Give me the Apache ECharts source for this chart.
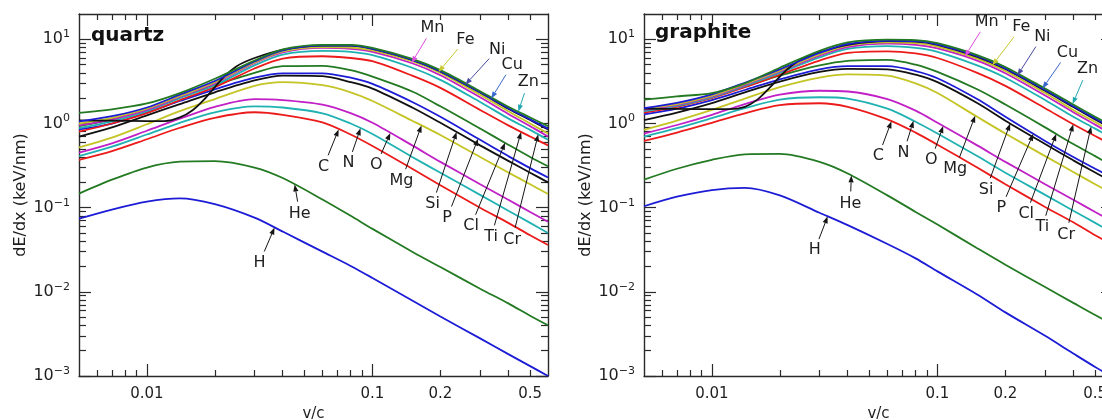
<!DOCTYPE html>
<html>
<head>
<meta charset="utf-8">
<script src="https://cdn.jsdelivr.net/npm/echarts@6/dist/echarts.min.js"></script>
<style>
  html, body { margin: 0; padding: 0; background: #ffffff; }
  #chart { width: 1102px; height: 420px; }
</style>
</head>
<body>
<div id="chart"></div>
<script>
// Electronic stopping power dE/dx (keV/nm) of ions in quartz and graphite vs. v/c

// v/c sample points shared by the curves
const vc = [0.005, 0.007, 0.01, 0.014, 0.02, 0.03, 0.04, 0.06, 0.08, 0.1, 0.15, 0.2, 0.3, 0.4, 0.5, 0.6];
// finer sampling for nickel, which climbs steeply around v/c = 0.02
const vcNi = [0.005, 0.007, 0.01, 0.012, 0.014, 0.016, 0.018, 0.02, 0.022, 0.025, 0.03, 0.04, 0.06, 0.08, 0.1, 0.15, 0.2, 0.3, 0.4, 0.5, 0.6];

// quartz
const quartzH  = [0.074, 0.095, 0.118, 0.129, 0.110, 0.076, 0.052, 0.030, 0.0203, 0.0146, 0.0079, 0.0051, 0.0028, 0.00182, 0.00131, 0.00100];
const quartzHe = [0.147, 0.215, 0.30, 0.352, 0.358, 0.30, 0.225, 0.125, 0.080, 0.056, 0.030, 0.0197, 0.0109, 0.0073, 0.0052, 0.0040];
const quartzC  = [0.37, 0.47, 0.65, 0.89, 1.17, 1.36, 1.27, 1.03, 0.74, 0.54, 0.29, 0.185, 0.100, 0.066, 0.047, 0.036];
const quartzN  = [0.41, 0.53, 0.74, 1.02, 1.36, 1.60, 1.55, 1.32, 1.00, 0.75, 0.40, 0.26, 0.142, 0.092, 0.066, 0.050];
const quartzO  = [0.45, 0.58, 0.82, 1.14, 1.58, 1.95, 1.90, 1.68, 1.33, 1.02, 0.55, 0.35, 0.19, 0.124, 0.089, 0.068];
const quartzMg = [0.52, 0.68, 0.98, 1.40, 1.95, 2.80, 3.10, 2.85, 2.35, 1.85, 1.08, 0.73, 0.40, 0.262, 0.19, 0.145];
const quartzSi = [0.70, 0.90, 1.25, 1.70, 2.35, 3.25, 3.70, 3.65, 3.10, 2.60, 1.55, 1.02, 0.55, 0.36, 0.26, 0.20];
const quartzP  = [0.85, 1.00, 1.35, 1.85, 2.55, 3.50, 3.95, 3.95, 3.50, 2.95, 1.80, 1.20, 0.64, 0.41, 0.295, 0.228];
const quartzCl = [0.93, 1.12, 1.50, 2.05, 2.85, 4.00, 4.80, 4.85, 4.30, 3.60, 2.40, 1.60, 0.87, 0.56, 0.40, 0.31];
const quartzTi = [0.80, 1.00, 1.33, 1.90, 2.70, 4.50, 5.90, 6.30, 6.00, 5.50, 3.70, 2.65, 1.45, 0.95, 0.70, 0.55];
const quartzCr = [0.88, 1.06, 1.40, 2.00, 2.85, 4.90, 6.60, 7.30, 7.10, 6.50, 4.60, 3.30, 1.80, 1.15, 0.84, 0.64];
const quartzMn = [0.95, 1.12, 1.45, 2.08, 3.00, 5.20, 7.00, 7.90, 7.70, 7.10, 5.20, 3.75, 2.05, 1.30, 0.93, 0.70];
const quartzFe = [1.00, 1.17, 1.50, 2.12, 3.10, 5.30, 7.20, 8.10, 8.00, 7.40, 5.50, 4.00, 2.20, 1.40, 1.00, 0.76];
const quartzNi = [1.09, 1.08, 1.07, 1.07, 1.18, 1.45, 1.95, 2.70, 3.60, 4.80, 6.00, 7.50, 8.40, 8.40, 7.70, 5.70, 4.15, 2.33, 1.50, 1.10, 0.85];
const quartzCu = [1.06, 1.22, 1.55, 2.20, 3.20, 5.45, 7.40, 8.40, 8.40, 7.70, 5.70, 4.15, 2.35, 1.52, 1.12, 0.87];
const quartzZn = [1.34, 1.47, 1.73, 2.30, 3.40, 5.60, 7.60, 8.60, 8.60, 7.90, 5.85, 4.30, 2.42, 1.58, 1.18, 0.93];

// graphite
const graphiteH  = [0.104, 0.135, 0.162, 0.172, 0.140, 0.087, 0.062, 0.037, 0.025, 0.0175, 0.0093, 0.0057, 0.0030, 0.00185, 0.00128, 0.00097];
const graphiteHe = [0.215, 0.29, 0.37, 0.43, 0.435, 0.35, 0.255, 0.14, 0.089, 0.063, 0.033, 0.021, 0.0114, 0.0074, 0.0053, 0.0041];
const graphiteC  = [0.62, 0.78, 1.02, 1.32, 1.65, 1.74, 1.58, 1.12, 0.78, 0.56, 0.30, 0.19, 0.102, 0.067, 0.047, 0.036];
const graphiteN  = [0.70, 0.88, 1.16, 1.52, 1.92, 2.05, 1.98, 1.50, 1.05, 0.76, 0.41, 0.26, 0.142, 0.092, 0.066, 0.050];
const graphiteO  = [0.76, 0.96, 1.27, 1.70, 2.20, 2.45, 2.40, 1.95, 1.42, 1.02, 0.55, 0.35, 0.19, 0.124, 0.089, 0.068];
const graphiteMg = [0.84, 1.08, 1.45, 1.98, 2.70, 3.50, 3.83, 3.70, 3.00, 2.30, 1.20, 0.76, 0.41, 0.265, 0.19, 0.145];
const graphiteSi = [1.10, 1.35, 1.75, 2.35, 3.15, 4.10, 4.45, 4.40, 3.80, 3.10, 1.75, 1.08, 0.57, 0.365, 0.262, 0.20];
const graphiteP  = [1.28, 1.50, 1.90, 2.50, 3.35, 4.40, 4.80, 4.80, 4.20, 3.45, 1.95, 1.20, 0.62, 0.40, 0.29, 0.225];
const graphiteCl = [1.42, 1.68, 2.10, 2.75, 3.70, 4.90, 5.55, 5.70, 5.00, 4.10, 2.55, 1.68, 0.90, 0.57, 0.41, 0.31];
const graphiteTi = [1.35, 1.58, 2.00, 2.70, 3.80, 5.60, 6.90, 7.20, 6.80, 6.00, 4.00, 2.80, 1.52, 0.98, 0.71, 0.55];
const graphiteCr = [1.40, 1.62, 2.05, 2.80, 4.00, 6.10, 7.70, 8.30, 7.90, 7.10, 4.90, 3.50, 1.90, 1.20, 0.87, 0.66];
const graphiteMn = [1.45, 1.66, 2.10, 2.88, 4.15, 6.40, 8.10, 8.90, 8.60, 7.80, 5.60, 3.95, 2.15, 1.36, 0.97, 0.73];
const graphiteFe = [1.50, 1.70, 2.15, 2.95, 4.25, 6.60, 8.40, 9.20, 9.00, 8.20, 5.90, 4.20, 2.30, 1.45, 1.04, 0.79];
const graphiteNi = [1.50, 1.49, 1.48, 1.48, 1.58, 1.95, 2.65, 3.60, 4.60, 5.80, 7.00, 8.60, 9.50, 9.40, 8.60, 6.20, 4.45, 2.45, 1.57, 1.12, 0.86];
const graphiteCu = [1.52, 1.76, 2.22, 3.05, 4.40, 6.90, 8.80, 9.60, 9.50, 8.70, 6.30, 4.50, 2.50, 1.60, 1.15, 0.88];
const graphiteZn = [1.92, 2.10, 2.30, 3.00, 4.60, 7.30, 9.20, 9.90, 9.80, 9.00, 6.50, 4.70, 2.60, 1.68, 1.20, 0.92];

// axis ticks and labels
const xMajorTicks = [0.01, 0.1];
const xMinorTicks = [0.006, 0.007, 0.008, 0.009, 0.02, 0.03, 0.04, 0.05, 0.06, 0.07, 0.08, 0.09, 0.2, 0.3, 0.4, 0.5];
const xTickLabels = [0.01, 0.1, 0.2, 0.5];
const yMajorTicks = [1e-3, 1e-2, 1e-1, 1, 10];
const yMinorTicks = [
  0.002, 0.003, 0.004, 0.005, 0.006, 0.007, 0.008, 0.009,
  0.02, 0.03, 0.04, 0.05, 0.06, 0.07, 0.08, 0.09,
  0.2, 0.3, 0.4, 0.5, 0.6, 0.7, 0.8, 0.9,
  2, 3, 4, 5, 6, 7, 8, 9
];

const ions = ['H', 'He', 'C', 'N', 'O', 'Mg', 'Si', 'P', 'Cl', 'Ti', 'Cr', 'Mn', 'Fe', 'Ni', 'Cu', 'Zn'];

const quartzCurves = {
  H: quartzH, He: quartzHe, C: quartzC, N: quartzN, O: quartzO, Mg: quartzMg, Si: quartzSi, P: quartzP,
  Cl: quartzCl, Ti: quartzTi, Cr: quartzCr, Mn: quartzMn, Fe: quartzFe, Ni: quartzNi, Cu: quartzCu, Zn: quartzZn
};
const graphiteCurves = {
  H: graphiteH, He: graphiteHe, C: graphiteC, N: graphiteN, O: graphiteO, Mg: graphiteMg, Si: graphiteSi, P: graphiteP,
  Cl: graphiteCl, Ti: graphiteTi, Cr: graphiteCr, Mn: graphiteMn, Fe: graphiteFe, Ni: graphiteNi, Cu: graphiteCu, Zn: graphiteZn
};

// line colours cycle blue, green, red, cyan, magenta, yellow, black
const BLUE = '#1c1cd6', GREEN = '#237a23', RED = '#ec1b1b', CYAN = '#20b2b2',
      MAGENTA = '#c020c6', YELLOW = '#c4c424', BLACK = '#111111';
const ionColors = {
  H: BLUE, He: GREEN, C: RED, N: CYAN, O: MAGENTA, Mg: YELLOW, Si: BLACK,
  P: BLUE, Cl: GREEN, Ti: RED, Cr: CYAN, Mn: MAGENTA, Fe: YELLOW, Ni: BLACK, Cu: BLUE, Zn: GREEN
};
const arrowColors = { Mn: '#e04ce0', Fe: '#c8c830', Ni: '#4a4aa6', Cu: '#3868cc', Zn: '#22a8b0' };

// labels: [ion, v/c of the arrow tip, text offset x, text offset y] (offsets in px from the tip)
const quartzNotes = [
  ['H', 0.0368, -15, 35], ['He', 0.0452, 5, 29], ['C', 0.0708, -15, 37], ['N', 0.0885, -12, 35],
  ['O', 0.120, -14, 32], ['Mg', 0.165, -20, 55], ['Si', 0.236, -24, 72], ['P', 0.294, -31, 79],
  ['Cl', 0.387, -34, 83], ['Ti', 0.456, -30, 105], ['Cr', 0.543, -26, 105],
  ['Mn', 0.149, 21, -35], ['Fe', 0.196, 27, -32], ['Ni', 0.258, 32, -35], ['Cu', 0.336, 21, -34], ['Zn', 0.443, 10, -30]
];
const graphiteNotes = [
  ['H', 0.0326, -13, 34], ['He', 0.0415, -1, 28], ['C', 0.0625, -13, 35], ['N', 0.0783, -10, 32],
  ['O', 0.106, -12, 34], ['Mg', 0.147, -20, 53], ['Si', 0.21, -24, 66], ['P', 0.266, -32, 74],
  ['Cl', 0.336, -30, 80], ['Ti', 0.40, -31, 103], ['Cr', 0.48, -25, 108],
  ['Mn', 0.132, 22, -35], ['Fe', 0.175, 29, -38], ['Ni', 0.226, 25, -39], ['Cu', 0.292, 25, -36], ['Zn', 0.397, 15, -35]
];

const L = Math.log10;
const X_MIN = L(0.005), X_MAX = L(0.6), Y_MIN = -3, Y_MAX = L(20);
const FONT = '"DejaVu Sans", sans-serif';
const AXIS_COLOR = '#2a2a2a';
const TEXT_COLOR = '#1e1e1e';

function xsFor(ion) { return ion === 'Ni' ? vcNi : vc; }

// log-log position on a curve, used to anchor a label arrow on that curve
function logValueAt(curves, ion, v) {
  const xs = xsFor(ion), ys = curves[ion], lv = L(v);
  for (let i = 0; i < xs.length - 1; i++) {
    const a = L(xs[i]), b = L(xs[i + 1]);
    if (lv >= a && lv <= b) {
      const t = (lv - a) / (b - a);
      return L(ys[i]) * (1 - t) + L(ys[i + 1]) * t;
    }
  }
  return L(ys[ys.length - 1]);
}

function vcLabel(v) { return String(parseFloat(Math.pow(10, v).toPrecision(2))); }
function powLabel(v) {
  const e = Math.round(v);
  return '{b|10}{s|' + (e < 0 ? '\u2212' + (-e) : String(e)) + '}';
}

function tickStyle() { return { color: AXIS_COLOR, width: 1.2 }; }

function xAxesFor(gi) {
  const base = {
    type: 'value', gridIndex: gi, min: X_MIN, max: X_MAX,
    splitLine: { show: false },
    axisLine: { show: true, onZero: false, lineStyle: { color: AXIS_COLOR, width: 1.4 } }
  };
  return [
    Object.assign({}, base, {
      position: 'bottom',
      axisTick: { show: true, inside: true, length: 12, customValues: xMajorTicks.map(L), lineStyle: tickStyle() },
      axisLabel: { show: true, customValues: xTickLabels.map(L), formatter: vcLabel, margin: 11,
                   fontSize: 15, fontFamily: FONT, color: TEXT_COLOR },
      name: 'v/c', nameLocation: 'middle', nameGap: 30,
      nameTextStyle: { fontSize: 15, fontFamily: FONT, color: TEXT_COLOR }
    }),
    Object.assign({}, base, {
      position: 'bottom', axisLine: { show: false, onZero: false },
      axisTick: { show: true, inside: true, length: 6, customValues: xMinorTicks.map(L), lineStyle: tickStyle() },
      axisLabel: { show: false }
    }),
    Object.assign({}, base, {
      position: 'top',
      axisTick: { show: true, inside: true, length: 12, customValues: xMajorTicks.map(L), lineStyle: tickStyle() },
      axisLabel: { show: false }
    }),
    Object.assign({}, base, {
      position: 'top', axisLine: { show: false, onZero: false },
      axisTick: { show: true, inside: true, length: 6, customValues: xMinorTicks.map(L), lineStyle: tickStyle() },
      axisLabel: { show: false }
    })
  ];
}

function yAxesFor(gi) {
  const base = {
    type: 'value', gridIndex: gi, min: Y_MIN, max: Y_MAX,
    splitLine: { show: false },
    axisLine: { show: true, onZero: false, lineStyle: { color: AXIS_COLOR, width: 1.4 } }
  };
  return [
    Object.assign({}, base, {
      position: 'left',
      axisTick: { show: true, inside: true, length: 12, customValues: yMajorTicks.map(L), lineStyle: tickStyle() },
      axisLabel: {
        show: true, customValues: yMajorTicks.map(L), formatter: powLabel, margin: 9,
        rich: {
          b: { fontSize: 16, fontFamily: FONT, color: TEXT_COLOR },
          s: { fontSize: 11, fontFamily: FONT, color: TEXT_COLOR, padding: [0, 0, 10, 0] }
        }
      },
      name: 'dE/dx (keV/nm)', nameLocation: 'middle', nameGap: 50, nameRotate: 90,
      nameTextStyle: { fontSize: 16, fontFamily: FONT, color: TEXT_COLOR }
    }),
    Object.assign({}, base, {
      position: 'left', axisLine: { show: false, onZero: false },
      axisTick: { show: true, inside: true, length: 7, customValues: yMinorTicks.map(L), lineStyle: tickStyle() },
      axisLabel: { show: false }
    }),
    Object.assign({}, base, {
      position: 'right',
      axisTick: { show: true, inside: true, length: 12, customValues: yMajorTicks.map(L), lineStyle: tickStyle() },
      axisLabel: { show: false }
    }),
    Object.assign({}, base, {
      position: 'right', axisLine: { show: false, onZero: false },
      axisTick: { show: true, inside: true, length: 7, customValues: yMinorTicks.map(L), lineStyle: tickStyle() },
      axisLabel: { show: false }
    })
  ];
}

function curveSeries(gi, curves) {
  return ions.map(function (ion) {
    const xs = xsFor(ion);
    return {
      name: ion, type: 'line', xAxisIndex: gi * 4, yAxisIndex: gi * 4,
      data: curves[ion].map(function (e, i) { return [L(xs[i]), L(e)]; }),
      smooth: 0.3, showSymbol: false, symbol: 'none',
      lineStyle: { color: ionColors[ion], width: 1.8 }, itemStyle: { color: ionColors[ion] },
      silent: true, z: 2
    };
  });
}

function noteSeries(gi, curves, notes) {
  return {
    type: 'custom', coordinateSystem: 'cartesian2d', xAxisIndex: gi * 4, yAxisIndex: gi * 4,
    clip: false, silent: true, z: 5,
    data: notes.map(function (n) { return [L(n[1]), logValueAt(curves, n[0], n[1])]; }),
    renderItem: function (params, api) {
      const n = notes[params.dataIndex];
      const color = arrowColors[n[0]] || '#151515';
      const tip = api.coord([api.value(0), api.value(1)]);
      const cx = tip[0] + n[2], cy = tip[1] + n[3];
      const dx = tip[0] - cx, dy = tip[1] - cy, d = Math.sqrt(dx * dx + dy * dy);
      const ux = dx / d, uy = dy / d;
      const gap = 12, head = 7, hw = 2.6;
      const sx = cx + ux * gap, sy = cy + uy * gap;
      const bx = tip[0] - ux * head, by = tip[1] - uy * head;
      return {
        type: 'group',
        children: [
          { type: 'line', shape: { x1: sx, y1: sy, x2: bx, y2: by }, style: { stroke: color, lineWidth: 1 } },
          { type: 'polygon', shape: { points: [[tip[0], tip[1]], [bx - uy * hw, by + ux * hw], [bx + uy * hw, by - ux * hw]] },
            style: { fill: color } },
          { type: 'text', x: cx, y: cy,
            style: { text: n[0], fill: TEXT_COLOR, font: '16px "DejaVu Sans"', align: 'center', verticalAlign: 'middle' } }
        ]
      };
    }
  };
}

const chart = echarts.init(document.getElementById('chart'), null, { renderer: 'canvas' });
chart.setOption({
  animation: false,
  backgroundColor: '#ffffff',
  grid: [
    { left: 79, top: 14, width: 469, height: 362, outerBoundsMode: 'none' },
    { left: 644, top: 14, width: 469, height: 362, outerBoundsMode: 'none' }
  ],
  xAxis: xAxesFor(0).concat(xAxesFor(1)),
  yAxis: yAxesFor(0).concat(yAxesFor(1)),
  graphic: [
    { type: 'text', left: 91, top: 26, style: { text: 'quartz', font: 'bold 20px "DejaVu Sans"', fill: '#111111' } },
    { type: 'text', left: 655, top: 23, style: { text: 'graphite', font: 'bold 20px "DejaVu Sans"', fill: '#111111' } }
  ],
  series: curveSeries(0, quartzCurves)
    .concat(curveSeries(1, graphiteCurves))
    .concat([noteSeries(0, quartzCurves, quartzNotes), noteSeries(1, graphiteCurves, graphiteNotes)])
});
</script>
</body>
</html>
